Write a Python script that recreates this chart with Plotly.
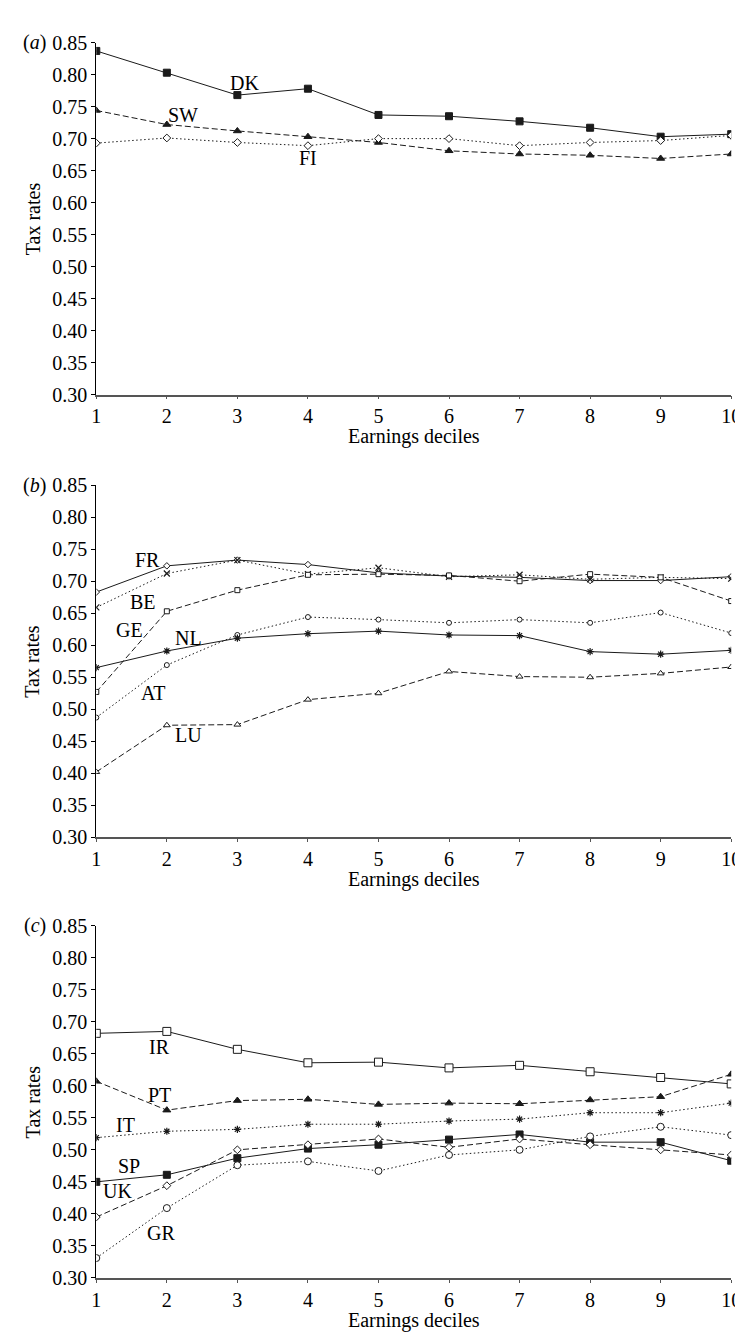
import plotly.graph_objects as go

deciles = [1, 2, 3, 4, 5, 6, 7, 8, 9, 10]
tick_vals = [0.30, 0.35, 0.40, 0.45, 0.50, 0.55, 0.60, 0.65, 0.70, 0.75, 0.80, 0.85]
tick_text = ["0.30", "0.35", "0.40", "0.45", "0.50", "0.55", "0.60", "0.65", "0.70", "0.75", "0.80", "0.85"]

# Panel (a)
DK = [0.837, 0.803, 0.768, 0.778, 0.737, 0.735, 0.727, 0.717, 0.703, 0.707]
SW = [0.744, 0.722, 0.712, 0.703, 0.694, 0.681, 0.676, 0.674, 0.669, 0.676]
FI = [0.693, 0.701, 0.694, 0.689, 0.700, 0.700, 0.689, 0.694, 0.697, 0.705]

# Panel (b)
FR = [0.683, 0.724, 0.733, 0.726, 0.713, 0.708, 0.706, 0.701, 0.701, 0.707]
BE = [0.659, 0.712, 0.733, 0.711, 0.721, 0.707, 0.710, 0.703, 0.706, 0.704]
GE = [0.527, 0.653, 0.686, 0.710, 0.711, 0.709, 0.700, 0.711, 0.706, 0.669]
AT = [0.487, 0.569, 0.616, 0.644, 0.640, 0.635, 0.640, 0.635, 0.651, 0.619]
NL = [0.565, 0.591, 0.611, 0.618, 0.622, 0.616, 0.615, 0.590, 0.586, 0.592]
LU = [0.402, 0.475, 0.476, 0.515, 0.525, 0.559, 0.551, 0.550, 0.556, 0.566]

# Panel (c)
IR = [0.682, 0.685, 0.657, 0.636, 0.637, 0.628, 0.632, 0.622, 0.613, 0.603]
PT = [0.607, 0.562, 0.577, 0.579, 0.571, 0.573, 0.572, 0.578, 0.583, 0.618]
IT = [0.519, 0.529, 0.532, 0.540, 0.540, 0.545, 0.548, 0.558, 0.558, 0.573]
SP = [0.450, 0.461, 0.487, 0.502, 0.508, 0.516, 0.524, 0.512, 0.512, 0.483]
UK = [0.395, 0.444, 0.500, 0.508, 0.517, 0.504, 0.517, 0.508, 0.500, 0.492]
GR = [0.331, 0.409, 0.476, 0.482, 0.467, 0.492, 0.500, 0.521, 0.536, 0.523]

W, H = 743, 1333
FONT = "Liberation Serif, Times New Roman, serif"
LC = "#1a1a1a"
DASH = "6px,3px"
DOT = "1.5px,2.5px"

def py(px):
    return 1 - px / H

panels = [
    ("a", 24, 382),
    ("b", 474, 832),
    ("c", 922, 1280),
]

# marker fill: "k" = black filled, "w" = white filled (open look), "s" = stroke-only glyph
series = [
    (0, "DK", DK, "solid", "square", 7, "k"),
    (0, "SW", SW, DASH, "triangle-up", 7, "k"),
    (0, "FI", FI, DOT, "diamond", 6, "w"),
    (1, "FR", FR, "solid", "diamond", 5, "w"),
    (1, "BE", BE, DOT, "x-thin", 6, "s"),
    (1, "GE", GE, DASH, "square", 5, "w"),
    (1, "AT", AT, DOT, "circle", 5, "w"),
    (1, "NL", NL, "solid", "asterisk", 6, "s"),
    (1, "LU", LU, DASH, "triangle-up", 6, "w"),
    (2, "IR", IR, "solid", "square", 8, "w"),
    (2, "PT", PT, DASH, "triangle-up", 7, "k"),
    (2, "IT", IT, DOT, "asterisk", 6, "s"),
    (2, "SP", SP, "solid", "square", 7, "k"),
    (2, "UK", UK, DASH, "diamond", 6, "w"),
    (2, "GR", GR, DOT, "circle", 7, "w"),
]

label_pos = {
    "DK": (3.10, 0.787), "SW": (2.23, 0.737), "FI": (4.00, 0.669),
    "FR": (1.72, 0.733), "BE": (1.66, 0.668), "GE": (1.47, 0.623),
    "NL": (2.31, 0.612), "AT": (1.81, 0.525), "LU": (2.31, 0.459),
    "IR": (1.89, 0.661), "PT": (1.89, 0.586), "IT": (1.42, 0.539),
    "SP": (1.47, 0.474), "UK": (1.30, 0.436), "GR": (1.92, 0.370),
}

fig = go.Figure()

for pi, name, vals, dash, sym, size, fill in series:
    ax = "" if pi == 0 else str(pi + 1)
    if fill == "k":
        mk = dict(symbol=sym, size=size, color=LC, line=dict(color=LC, width=1))
    elif fill == "w":
        mk = dict(symbol=sym, size=size, color="white", line=dict(color=LC, width=1))
    else:
        mk = dict(symbol=sym, size=size, color=LC, line=dict(color=LC, width=1.2))
    fig.add_trace(go.Scatter(
        x=deciles, y=vals, mode="lines+markers", name=name,
        xaxis="x" + ax, yaxis="y" + ax,
        line=dict(color=LC, width=1, dash=dash),
        marker=mk,
        showlegend=False, hoverinfo="skip",
    ))

x0, x1 = 85 / W, 733 / W
annotations = []
for i, (tag, top, bot) in enumerate(panels):
    ax = "" if i == 0 else str(i + 1)
    fig.layout["xaxis" + ax] = dict(
        domain=[x0, x1], range=[1, 10], anchor="y" + ax,
        tickvals=deciles, ticktext=[str(d) for d in deciles],
        ticks="outside", ticklen=3, tickcolor="#555", tickwidth=1,
        showline=True, linecolor="#555", linewidth=1.5,
        showgrid=False, zeroline=False,
        tickfont=dict(family=FONT, size=20, color="black"),
    )
    fig.layout["yaxis" + ax] = dict(
        domain=[py(bot), py(top)], range=[0.30, 0.85], anchor="x" + ax,
        tickvals=tick_vals, ticktext=tick_text,
        ticks="outside", ticklen=4, tickcolor="black", tickwidth=1,
        showline=True, linecolor="black", linewidth=1,
        showgrid=False, zeroline=False,
        tickfont=dict(family=FONT, size=20, color="black"),
    )
    annotations.append(dict(
        text="Earnings deciles", xref="paper", yref="paper",
        x=(85 + 733) / 2 / W, y=py(bot + 43), showarrow=False,
        font=dict(family=FONT, size=20, color="black"),
        xanchor="center", yanchor="middle",
    ))
    annotations.append(dict(
        text="Tax rates", xref="paper", yref="paper",
        x=20 / W, y=py((top + bot) / 2), showarrow=False, textangle=-90,
        font=dict(family=FONT, size=20, color="black"),
        xanchor="center", yanchor="middle",
    ))
    annotations.append(dict(
        text="(<i>" + tag + "</i>)", xref="paper", yref="paper",
        x=22 / W, y=py(top), showarrow=False,
        font=dict(family=FONT, size=20, color="black"),
        xanchor="center", yanchor="middle",
    ))

for pi, name, vals, dash, sym, size, fill in series:
    ax = "" if pi == 0 else str(pi + 1)
    lx, ly = label_pos[name]
    annotations.append(dict(
        text=name, xref="x" + ax, yref="y" + ax, x=lx, y=ly,
        showarrow=False, font=dict(family=FONT, size=20, color="black"),
        xanchor="center", yanchor="middle",
    ))

fig.update_layout(
    width=W, height=H, autosize=False,
    margin=dict(l=0, r=0, t=0, b=0),
    paper_bgcolor="white", plot_bgcolor="white",
    annotations=annotations,
)

fig.write_html("out.html")
